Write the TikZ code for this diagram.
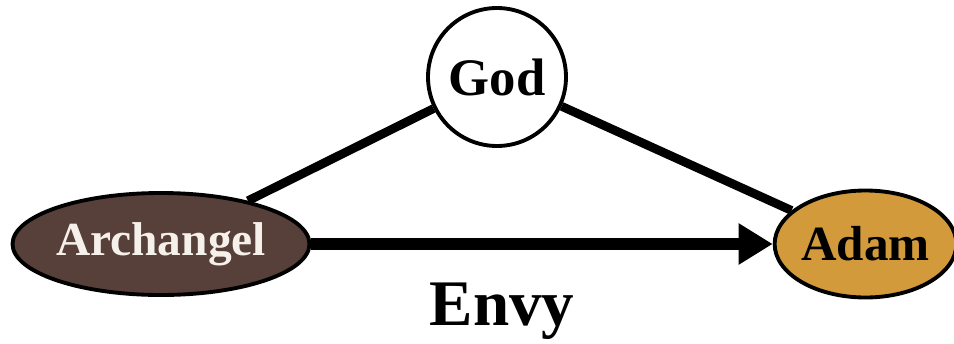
\documentclass[tikz,border=0pt]{standalone}
\usepackage{fontspec}
\setmainfont{Liberation Serif}
\usepackage{xcolor}
\usetikzlibrary{positioning, shapes.geometric, arrows.meta}
\definecolor{darkbrown}{HTML}{574039}
\definecolor{gold}{HTML}{D39A3C}
\definecolor{cream}{HTML}{F6F0EA}

\begin{document}
\begin{tikzpicture}[
  font=\bfseries,
  being/.style={draw=black, line width=2.2pt, ellipse, inner sep=0pt},
  link/.style={draw=black, line width=5pt},
  arr/.style={draw=black, line width=6.5pt, -{Triangle[length=0.68cm, width=0.78cm]}}
]
\useasboundingbox (0,0) rectangle (19.08,6.86);

\node[draw=black, line width=2.2pt, circle, fill=white, minimum size=2.76cm,
      font=\fontsize{30}{32}\selectfont\bfseries] (god) at (9.94,5.32) {God};
\node[being, fill=darkbrown, text=cream, minimum width=5.64cm, minimum height=2.04cm,
      font=\fontsize{27}{30}\selectfont\bfseries] (arch) at (3.22,1.98) {Archangel};
\node[being, fill=gold, minimum width=3.48cm, minimum height=2.14cm,
      font=\fontsize{28}{30}\selectfont\bfseries] (adam) at (17.31,1.98) {Adam};

% links to God
\draw[link] (arch) -- (god);
\draw[link] (god) -- (adam);
% envy arrow
\draw[arr] (arch) -- (adam);
\node[anchor=base, font=\fontsize{37}{40}\selectfont\bfseries] (envy) at (10.04,0.36) {Envy};
\end{tikzpicture}
\end{document}
